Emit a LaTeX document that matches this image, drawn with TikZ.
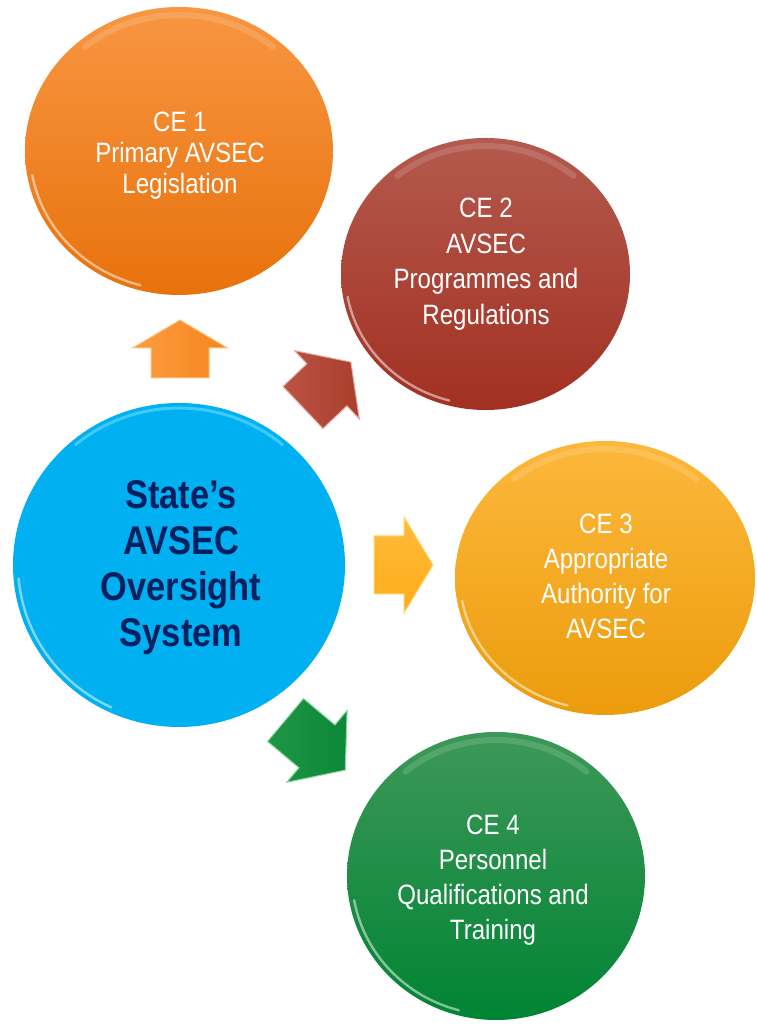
\documentclass[tikz,border=0pt]{standalone}
\usepackage{fontspec}
\setmainfont{Liberation Sans}[FakeStretch=0.86]
\usetikzlibrary{shapes.geometric,calc}
\definecolor{ceOneTop}{RGB}{248,150,66}
\definecolor{ceOneBot}{RGB}{232,114,12}
\definecolor{ceTwoTop}{RGB}{180,90,78}
\definecolor{ceTwoBot}{RGB}{162,48,34}
\definecolor{stateBlue}{RGB}{0,176,240}
\definecolor{stateRim}{RGB}{90,215,255}
\definecolor{ceThreeTop}{RGB}{252,184,60}
\definecolor{ceThreeBot}{RGB}{236,156,12}
\definecolor{ceFourTop}{RGB}{62,152,88}
\definecolor{ceFourBot}{RGB}{0,132,52}
\definecolor{navyText}{RGB}{0,32,96}
\definecolor{arrOrange}{RGB}{246,134,28}
\definecolor{arrOrangeL}{RGB}{252,156,64}
\definecolor{arrOrangeE}{RGB}{255,196,130}
\definecolor{arrRed}{RGB}{170,62,44}
\definecolor{arrRedL}{RGB}{186,84,68}
\definecolor{arrRedE}{RGB}{232,170,158}
\definecolor{arrAmber}{RGB}{255,172,24}
\definecolor{arrAmberL}{RGB}{255,186,60}
\definecolor{arrAmberE}{RGB}{255,214,110}
\definecolor{arrGreen}{RGB}{12,136,56}
\definecolor{arrGreenL}{RGB}{30,150,70}
\definecolor{arrGreenE}{RGB}{140,220,160}
\tikzset{
  bubble/.style={ellipse, inner sep=0pt, draw=none},
  rimglow/.style={draw=white, opacity=0.5, line width=2.4pt, line cap=round},
  toprim/.style={draw=white, opacity=0.14, line width=6pt, line cap=round},
  cetext/.style={align=center, text=white, inner sep=0pt},
  blockedge/.style={line width=1pt, line join=miter},
}
% x, y, angle, shaft length, shaft half width, head length, head half width, style
\newcommand\blockarr[8]{%
  \begin{scope}[shift={(#1,#2)}, rotate=#3]
    \path[#8] (0,-#5) -- (#4,-#5) -- (#4,-#7) -- ({#4+#6},0) -- (#4,#7) -- (#4,#5) -- (0,#5) -- cycle;
  \end{scope}}
% node, rx, ry, start, end, style
\newcommand\rimarc[6]{%
  \path[#6] ($(#1.center)+(#4:#2 and #3)$) arc[start angle=#4, end angle=#5, x radius=#2, y radius=#3];}
\begin{document}
\begin{tikzpicture}[x=1pt,y=1pt]
\useasboundingbox (0,0) rectangle (756,1024);
\fill[white] (0,0) rectangle (756,1024);

% circles
\node[bubble, minimum width=308pt, minimum height=288pt, top color=ceOneTop, bottom color=ceOneBot] (ce1) at (179,873) {};
\node[bubble, minimum width=289pt, minimum height=272pt, top color=ceTwoTop, bottom color=ceTwoBot] (ce2) at (485.5,750) {};
\node[bubble, minimum width=332pt, minimum height=324pt, fill=stateBlue] (state) at (179,459) {};
\node[bubble, minimum width=300pt, minimum height=274pt, top color=ceThreeTop, bottom color=ceThreeBot] (ce3) at (605,446) {};
\node[bubble, minimum width=298pt, minimum height=288pt, top color=ceFourTop, bottom color=ceFourBot] (ce4) at (496,148) {};

% glossy rims
\rimarc{ce1}{149}{139}{190}{255}{rimglow}
\rimarc{ce1}{146}{136}{50}{130}{toprim}
\rimarc{ce2}{140}{131}{190}{255}{rimglow}
\rimarc{ce2}{137}{128}{50}{130}{toprim}
\rimarc{state}{161}{157}{185}{245}{rimglow}
\rimarc{state}{161}{157}{50}{130}{draw=stateRim, opacity=0.7, line width=3pt, line cap=round}
\rimarc{ce3}{145}{132}{190}{255}{rimglow}
\rimarc{ce3}{142}{129}{50}{130}{toprim}
\rimarc{ce4}{144}{139}{190}{255}{rimglow}
\rimarc{ce4}{141}{136}{50}{130}{toprim}

% texts
\node[cetext, font=\fontsize{28}{31}\selectfont] (t1) at ($(ce1.center)+(1,-5)$) {CE 1\\Primary AVSEC\\Legislation};
\node[cetext, font=\fontsize{28}{35.5}\selectfont] (t2) at ($(ce2.center)+(0.5,10)$) {CE 2\\AVSEC\\Programmes and\\Regulations};
\node[align=center, text=navyText, inner sep=0pt, font=\bfseries\fontsize{40}{46}\selectfont] (ts) at ($(state.center)+(2,-3)$) {State’s\\AVSEC\\Oversight\\System};
\node[cetext, font=\fontsize{28}{35}\selectfont] (t3) at ($(ce3.center)+(1,1.5)$) {CE 3\\Appropriate\\Authority for\\AVSEC};
\node[cetext, font=\fontsize{28}{35}\selectfont] (t4) at ($(ce4.center)+(-3,-4.5)$) {CE 4\\Personnel\\Qualifications and\\Training};

% block arrows
\blockarr{180}{646}{90}{30}{29}{28}{47.5}{blockedge, left color=arrOrangeL, right color=arrOrange, draw=arrOrangeE}
\blockarr{303}{616.5}{43.5}{33}{29}{33}{47}{blockedge, left color=arrRedL, right color=arrRed, draw=arrRedE}
\blockarr{374}{459}{0}{30}{29}{29}{48}{blockedge, top color=arrAmberL, bottom color=arrAmber, draw=arrAmberE}
\blockarr{285.5}{304}{-40}{41}{28}{37}{47}{blockedge, left color=arrGreenL, right color=arrGreen, draw=arrGreenE}
\end{tikzpicture}
\end{document}
